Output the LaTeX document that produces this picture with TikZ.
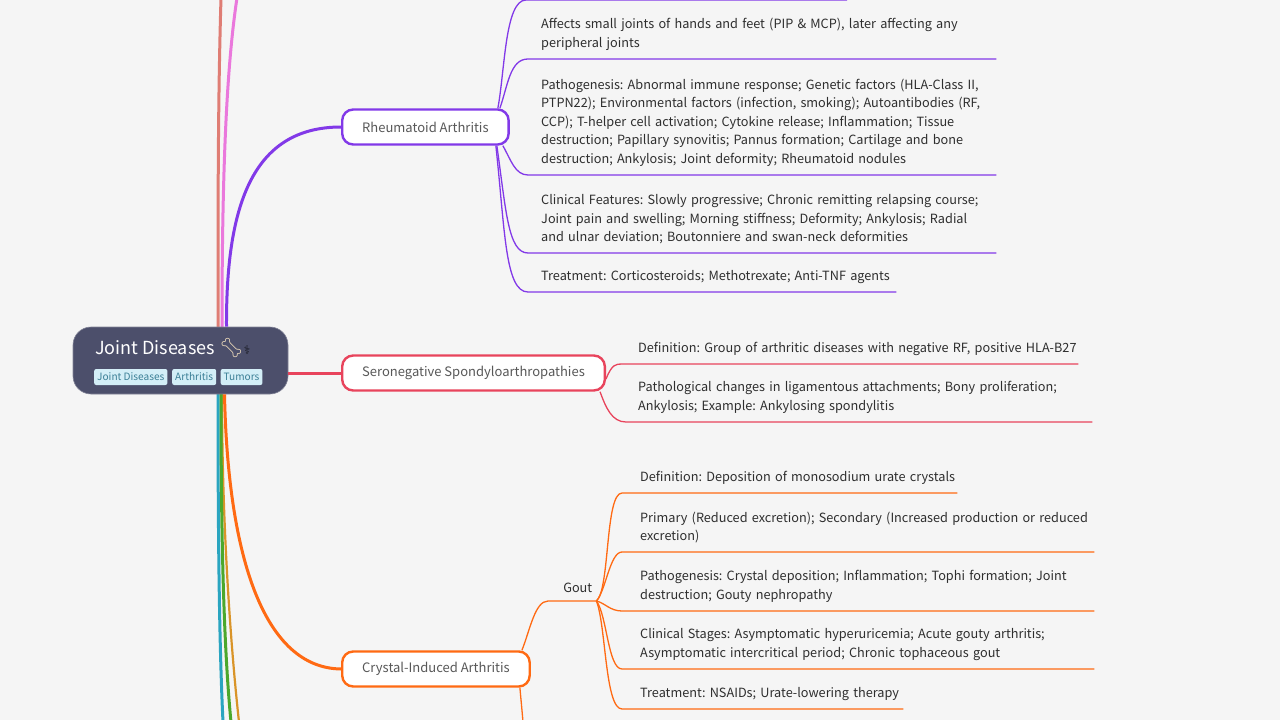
\documentclass[tikz,border=0pt]{standalone}
\usepackage{fontspec}
\setmainfont{Noto Sans CJK SC}
\newfontfamily\emojifont{Noto Emoji}
\newfontfamily\symfont{DejaVu Sans}
\usetikzlibrary{positioning,calc}
\definecolor{bgpage}{HTML}{F5F5F5}
\definecolor{rootfill}{HTML}{4C4F6B}
\definecolor{tagfill}{HTML}{D3EEF7}
\definecolor{tagtext}{HTML}{3B7F96}
\definecolor{inktext}{HTML}{2E2E2E}
\definecolor{violetline}{HTML}{8239E8}
\definecolor{redline}{HTML}{E8445C}
\definecolor{orangeline}{HTML}{FF6A13}
\definecolor{salmonline}{HTML}{DF7D74}
\definecolor{pinkline}{HTML}{EA78DC}
\definecolor{tealline}{HTML}{2AA5C0}
\definecolor{greenline}{HTML}{4BA82C}
\definecolor{amberline}{HTML}{D99428}
\definecolor{bonecream}{HTML}{F6E3C0}
\tikzset{
  rootbox/.style={rectangle, rounded corners=18pt, fill=rootfill, draw=rootfill!70!white, line width=0.6pt, minimum width=215pt, minimum height=67pt},
  tagbox/.style={rectangle, rounded corners=2pt, fill=tagfill, text=tagtext, font=\fontsize{10.1}{12}\selectfont, inner xsep=3pt, inner ysep=0pt, minimum height=16pt},
  branchbox/.style={rectangle, rounded corners=11pt, fill=white, line width=2.4pt, text=inktext!80!white, font=\fontsize{13}{18}\selectfont, minimum height=35pt, inner xsep=20pt, anchor=west},
  leaftext/.style={anchor=south west, inner xsep=0pt, inner ysep=8.5pt, align=left, text=inktext, font=\fontsize{12.7}{18.5}\selectfont},
  mainlink/.style={line width=3pt},
  leaflink/.style={line width=1.3pt},
}
\begin{document}
\frenchspacing
\hyphenpenalty=10000
\exhyphenpenalty=10000
\begin{tikzpicture}[x=1pt, y=-1pt]
\useasboundingbox (0,0) rectangle (1280,720);
\fill[bgpage] (0,0) rectangle (1280,720);

% free ends at the picture edge
\coordinate (salmonend) at (221,-2);
\coordinate (pinkend) at (237,-2);
\coordinate (tealend) at (223,722);
\coordinate (greenend) at (231,722);
\coordinate (amberend) at (239,722);
\coordinate (crystalend) at (523,722);

% links behind the root
\coordinate (rootup) at (222,327);
\coordinate (rootdown) at (222,394);
\draw[mainlink, salmonline] ([xshift=-4pt]rootup) .. controls (218,200) and (218,100) .. (salmonend);
\draw[mainlink, pinkline] (rootup) .. controls (222,180) and (226,70) .. (pinkend);
\draw[mainlink, line width=2.2pt, amberline] (rootdown) .. controls (222,520) and (230,640) .. (amberend);
\draw[mainlink, tealline] ([xshift=-4pt]rootdown) .. controls (218,520) and (219,640) .. (tealend);
\draw[mainlink, greenline] ([xshift=-1pt]rootdown) .. controls (221,520) and (223,640) .. (greenend);

% root
\node[rootbox] (root) at (180.5,360.5) {};
\node[anchor=base west, inner sep=0pt, text=white, font=\fontsize{18}{24}\selectfont] (roottitle) at (95,354) {Joint Diseases};
\node[right=4pt of roottitle.base east, anchor=base west, inner sep=0pt, text=bonecream, font=\emojifont\fontsize{19}{24}\selectfont] (bone) {^^^^^^01f9b4};
\node[right=0pt of bone.base east, anchor=base west, inner sep=0pt, text=black!70!rootfill, font=\symfont\fontsize{12}{14}\selectfont] (staff) {^^^^2695};
\node[tagbox, anchor=west] (tagjoint) at (94,377) {Joint Diseases};
\node[tagbox, anchor=west] (tagarth) at (172,377) {Arthritis};
\node[tagbox, anchor=west] (tagtum) at (220.5,377) {Tumors};

% branches
\node[branchbox, draw=violetline] (rheum) at (341,127) {Rheumatoid Arthritis};
\node[branchbox, draw=redline] (sero) at (341,373) {Seronegative Spondyloarthropathies};
\node[branchbox, draw=orangeline] (crystal) at (341,669) {Crystal-Induced Arthritis};
\draw[mainlink, violetline] ([xshift=46pt]root.north) .. controls (226,210) and (250,127) .. (rheum.west);
\draw[mainlink, redline] (root.east |- sero.west) -- (sero.west);
\draw[mainlink, orangeline] ([xshift=44pt]root.south) .. controls (228,560) and (265,668) .. (crystal.west);

% Rheumatoid Arthritis leaves
\coordinate (rheumtop) at (526,0);
\coordinate (rheumtopend) at (847,0);
\node[leaftext, text width=455pt] (affects) at (541,59) {Affects small joints of hands and feet (PIP \& MCP), later affecting any\\peripheral joints};
\node[leaftext, text width=455pt] (patho) at (541,175) {Pathogenesis: Abnormal immune response; Genetic factors (HLA-Class II,\\PTPN22); Environmental factors (infection, smoking); Autoantibodies (RF,\\CCP); T-helper cell activation; Cytokine release; Inflammation; Tissue\\destruction; Papillary synovitis; Pannus formation; Cartilage and bone\\destruction; Ankylosis; Joint deformity; Rheumatoid nodules};
\node[leaftext, text width=455pt] (clinical) at (541,253) {Clinical Features: Slowly progressive; Chronic remitting relapsing course;\\Joint pain and swelling; Morning stiffness; Deformity; Ankylosis; Radial\\and ulnar deviation; Boutonniere and swan-neck deformities};
\node[leaftext, text width=355pt] (treat) at (541,292) {Treatment: Corticosteroids; Methotrexate; Anti-TNF agents};
\begin{scope}[leaflink, violetline]
\draw ([xshift=-12pt]rheum.north east) .. controls (505,70) and (505,0) .. (rheumtop) -- (rheumtopend);
\draw ([xshift=-10pt]rheum.north east) .. controls (508,85) and (510,59) .. ([xshift=-13pt]affects.south west) -- (affects.south east);
\draw ([xshift=-7pt]rheum.south east) .. controls (511,160) and (515,175) .. ([xshift=-13pt]patho.south west) -- (patho.south east);
\draw ([xshift=-13pt]rheum.south east) .. controls (506,210) and (508,253) .. ([xshift=-13pt]clinical.south west) -- (clinical.south east);
\draw ([xshift=-14pt]rheum.south east) .. controls (505,230) and (505,292) .. ([xshift=-13pt]treat.south west) -- (treat.south east);
\end{scope}

% Seronegative leaves
\node[leaftext, text width=440pt] (seroone) at (638,364) {Definition: Group of arthritic diseases with negative RF, positive HLA-B27};
\node[leaftext, text width=454pt] (serotwo) at (638,422) {Pathological changes in ligamentous attachments; Bony proliferation;\\Ankylosis; Example: Ankylosing spondylitis};
\begin{scope}[leaflink, redline]
\draw ([yshift=-6pt]sero.east) .. controls (612,364) and (616,364) .. ([xshift=-16pt]seroone.south west) -- (seroone.south east);
\draw ([xshift=-6pt]sero.south east) .. controls (606,408) and (612,422) .. ([xshift=-12pt]serotwo.south west) -- (serotwo.south east);
\end{scope}

% Crystal-Induced Arthritis leaves
\node[anchor=south west, inner xsep=0pt, inner ysep=8.5pt, text width=48pt, align=right, text=inktext, font=\fontsize{12.7}{18}\selectfont] (gout) at (548,601) {Gout\hspace*{4pt}};
\node[leaftext, text width=317pt] (goutdef) at (640,493) {Definition: Deposition of monosodium urate crystals};
\node[leaftext, text width=454pt] (goutprim) at (640,552) {Primary (Reduced excretion); Secondary (Increased production or reduced\\excretion)};
\node[leaftext, text width=454pt] (goutpath) at (640,611) {Pathogenesis: Crystal deposition; Inflammation; Tophi formation; Joint\\destruction; Gouty nephropathy};
\node[leaftext, text width=454pt] (goutclin) at (640,669) {Clinical Stages: Asymptomatic hyperuricemia; Acute gouty arthritis;\\Asymptomatic intercritical period; Chronic tophaceous gout};
\node[leaftext, text width=263pt] (gouttreat) at (640,709) {Treatment: NSAIDs; Urate-lowering therapy};
\begin{scope}[leaflink, orangeline]
\draw ([xshift=-9pt]crystal.north east) .. controls (530,630) and (535,601) .. (gout.south west) -- (gout.south east);
\draw ([xshift=-11pt]crystal.south east) .. controls (521,700) and (522,710) .. (crystalend);
\draw (gout.south east) .. controls (610,590) and (605,493) .. ([xshift=-18pt]goutdef.south west) -- (goutdef.south east);
\draw (gout.south east) .. controls (606,590) and (610,552) .. ([xshift=-18pt]goutprim.south west) -- (goutprim.south east);
\draw (gout.south east) .. controls (605,603) and (610,611) .. ([xshift=-18pt]goutpath.south west) -- (goutpath.south east);
\draw (gout.south east) .. controls (607,615) and (608,669) .. ([xshift=-18pt]goutclin.south west) -- (goutclin.south east);
\draw (gout.south east) .. controls (606,625) and (605,709) .. ([xshift=-18pt]gouttreat.south west) -- (gouttreat.south east);
\end{scope}
\end{tikzpicture}
\end{document}
